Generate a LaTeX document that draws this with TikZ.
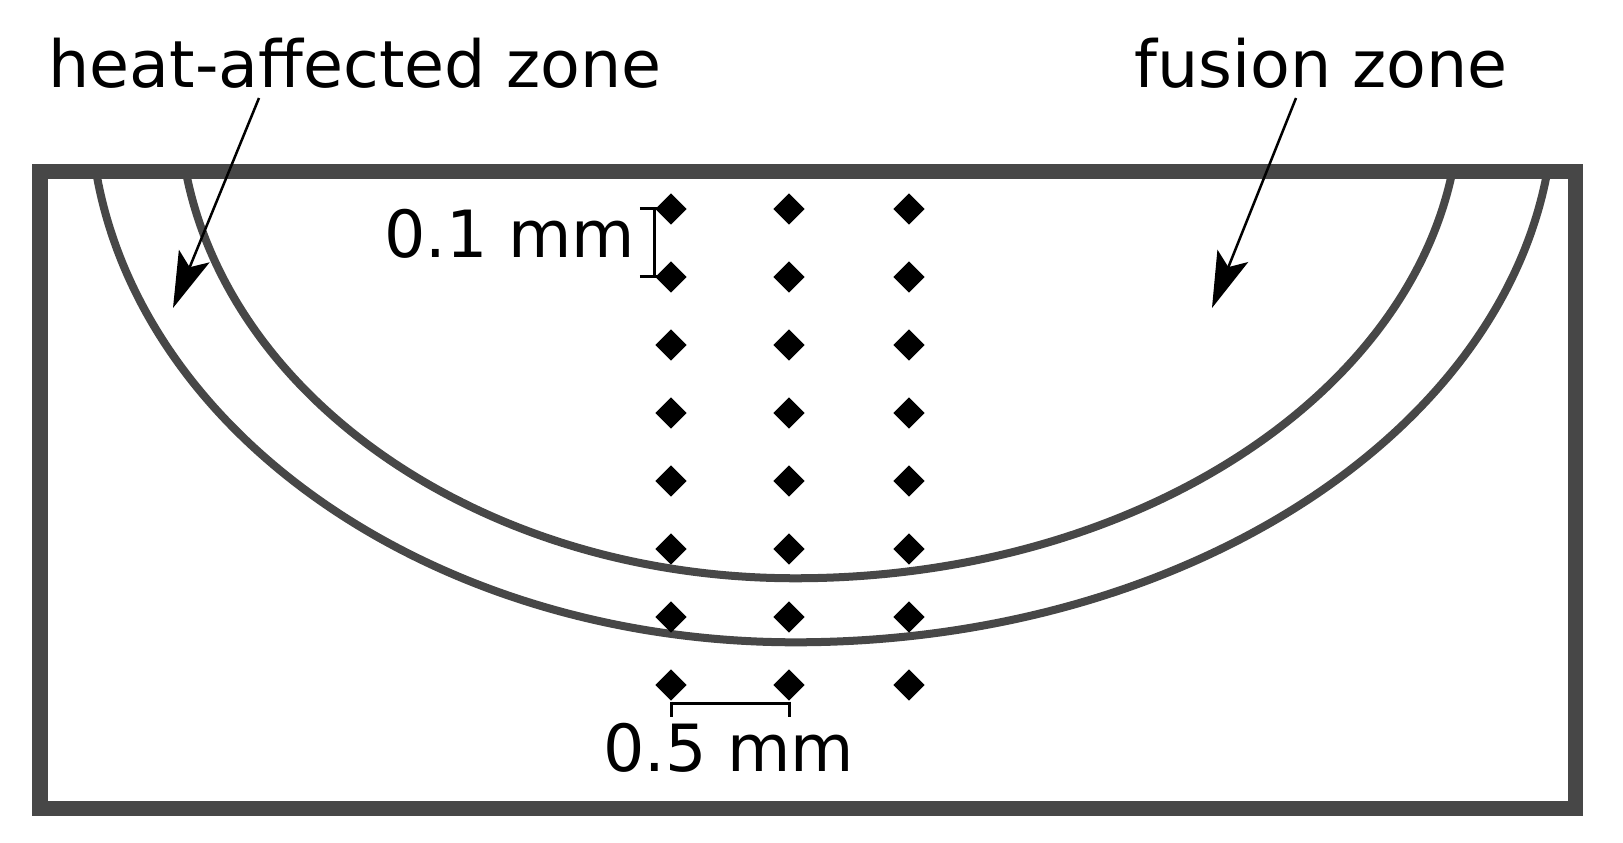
\documentclass[tikz,border=0pt]{standalone}
\usepackage{fontspec}
\setmainfont{DejaVu Sans}
\usepackage{tikz}
\usetikzlibrary{shapes.geometric,arrows.meta}
\definecolor{weldgray}{HTML}{474747}

\begin{document}
\begin{tikzpicture}[x=0.01cm,y=-0.01cm]
\tikzstyle{txt} = [font=\fontsize{18.5}{22}\selectfont,inner sep=0];
\tikzstyle{point} = [diamond,fill=black,inner sep=0,minimum size=0.32cm];
\tikzstyle{plate} = [line width=0.15cm,weldgray];
\tikzstyle{zone} = [line width=0.08cm,weldgray];
\tikzstyle{dim} = [line width=0.03cm];
\tikzstyle{arr} = [line width=0.025cm,-{Stealth[length=0.56cm,width=0.33cm,inset=0.12cm]}];
\useasboundingbox (0,0) rectangle (1623,843);
% weld zone boundaries
\begin{scope}
\clip (40,172) rectangle (1575,808);
\draw [zone] (90,100) arc [start angle=180, end angle=270, x radius=7.05cm, y radius=5.42cm]
  arc [start angle=270, end angle=360, x radius=7.58cm, y radius=5.42cm];
\draw [zone] (179,100) arc [start angle=180, end angle=270, x radius=6.16cm, y radius=4.78cm]
  arc [start angle=270, end angle=360, x radius=6.64cm, y radius=4.78cm];
\end{scope}
\draw [plate] (40,172) rectangle (1575.5,808.5);
% measurement points
\node [point] (m11) at (671,209) {};
\node [point] (m12) at (789,209) {};
\node [point] (m13) at (909,209) {};
\node [point] (m21) at (671,277) {};
\node [point] (m22) at (789,277) {};
\node [point] (m23) at (909,277) {};
\node [point] (m31) at (671,345) {};
\node [point] (m32) at (789,345) {};
\node [point] (m33) at (909,345) {};
\node [point] (m41) at (671,413) {};
\node [point] (m42) at (789,413) {};
\node [point] (m43) at (909,413) {};
\node [point] (m51) at (671,481) {};
\node [point] (m52) at (789,481) {};
\node [point] (m53) at (909,481) {};
\node [point] (m61) at (671,549) {};
\node [point] (m62) at (789,549) {};
\node [point] (m63) at (909,549) {};
\node [point] (m71) at (671,617) {};
\node [point] (m72) at (789,617) {};
\node [point] (m73) at (909,617) {};
\node [point] (m81) at (671,685) {};
\node [point] (m82) at (789,685) {};
\node [point] (m83) at (909,685) {};
% labels
\node [txt,anchor=base west] (haz) at (48,88) {heat-affected zone};
\node [txt,anchor=base west] (fz) at (1134,88) {fusion zone};
\node [txt,anchor=base east] (dy) at (636,258) {0.1 mm};
\node [txt,anchor=base] (dx) at (729,772) {0.5 mm};
\coordinate (hazfrom) at (259,98);
\coordinate (hazto) at (173,308);
\coordinate (fzfrom) at (1296,98);
\coordinate (fzto) at (1212,308);
\draw [arr] (hazfrom) -- (hazto);
\draw [arr] (fzfrom) -- (fzto);
% spacings
\coordinate (s1) at (654,209);
\coordinate (s2) at (654,277);
\draw [dim] (s1) -- (s2);
\draw [dim] ([xshift=-0.14cm]s1) -- ([xshift=0.07cm]s1);
\draw [dim] ([xshift=-0.14cm]s2) -- ([xshift=0.07cm]s2);
\coordinate (w1) at (671,704);
\coordinate (w2) at (789,704);
\draw [dim] (w1) -- (w2);
\draw [dim] (m81.south) -- ([yshift=-0.13cm]w1);
\draw [dim] (m82.south) -- ([yshift=-0.13cm]w2);
\end{tikzpicture}
\end{document}
